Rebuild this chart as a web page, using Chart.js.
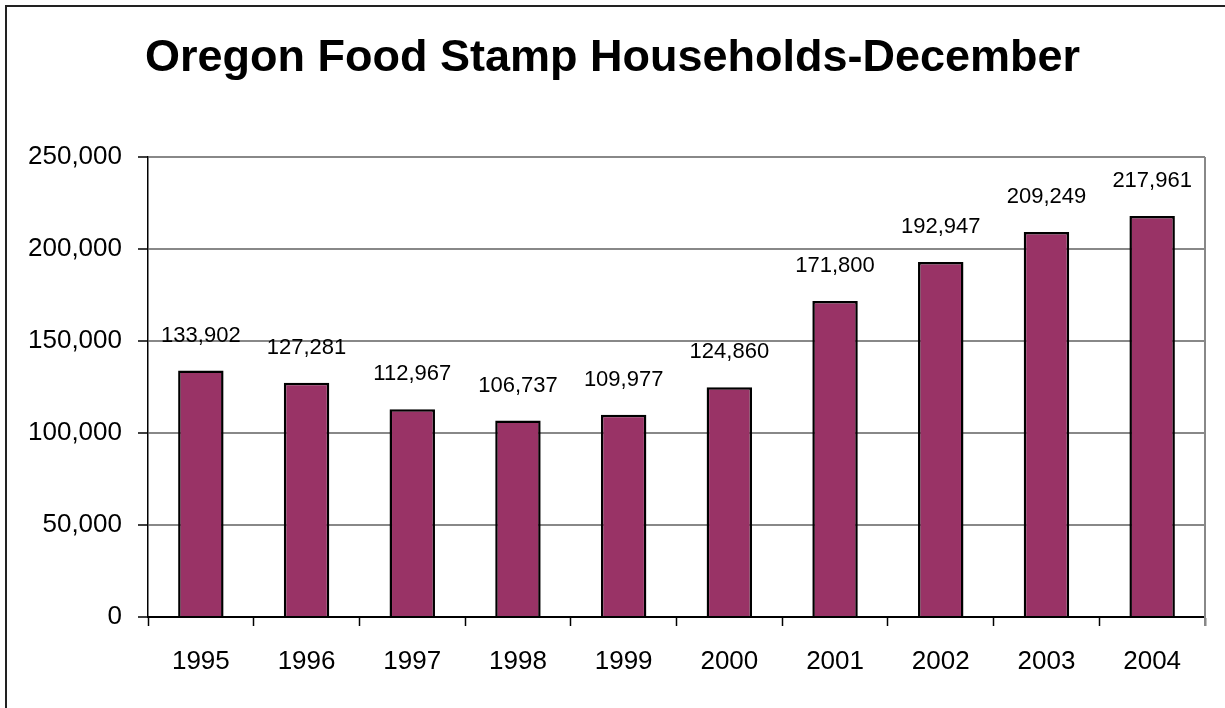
<!DOCTYPE html>
<html>
<head>
<meta charset="utf-8">
<title>Oregon Food Stamp Households-December</title>
<script src="https://cdn.jsdelivr.net/npm/chart.js@4.4.1/dist/chart.umd.min.js"></script>
<style>
  html, body { margin: 0; padding: 0; background: #fff; }
  #wrap { position: relative; width: 1225px; height: 708px; overflow: hidden; }
  #frame { position: absolute; left: 5px; top: 5px; width: 1300px; height: 800px;
           border-left: 2px solid #222; border-top: 2px solid #222; }
  #foodChart { position: absolute; left: 0; top: 0; }
</style>
</head>
<body>
<div id="wrap">
  <div id="frame"></div>
  <canvas id="foodChart" width="1225" height="708"></canvas>
</div>
<script>
// households on food stamps, December of each year
const years = ["1995", "1996", "1997", "1998", "1999", "2000", "2001", "2002", "2003", "2004"];
const households = [133902, 127281, 112967, 106737, 109977, 124860, 171800, 192947, 209249, 217961];
const yTicks = [0, 50000, 100000, 150000, 200000, 250000];

const sans = "'Liberation Sans', Arial, sans-serif";

function fmt(v) {
  return Number(v).toLocaleString("en-US");
}

// value above each bar
const barLabels = {
  id: "barLabels",
  afterDatasetsDraw(chart) {
    const ctx = chart.ctx;
    const meta = chart.getDatasetMeta(0);
    ctx.save();
    ctx.font = "22px " + sans;
    ctx.fillStyle = "#000";
    ctx.textAlign = "center";
    ctx.textBaseline = "alphabetic";
    meta.data.forEach(function (bar, i) {
      ctx.fillText(fmt(chart.data.datasets[0].data[i]), bar.x, bar.y - 29);
    });
    ctx.restore();
  }
};

// gray line closing the plot area on the right
const rightEdge = {
  id: "rightEdge",
  beforeDatasetsDraw(chart) {
    const a = chart.chartArea;
    const ctx = chart.ctx;
    ctx.save();
    ctx.strokeStyle = "#888";
    ctx.lineWidth = 2;
    ctx.beginPath();
    ctx.moveTo(a.right, a.top);
    ctx.lineTo(a.right, a.bottom + 9);
    ctx.stroke();
    ctx.restore();
  }
};

Chart.defaults.color = "#000";

const foodChart = new Chart("foodChart", {
  type: "bar",
  data: {
    labels: years,
    datasets: [{
      data: households,
      backgroundColor: "#993366",
      borderColor: "#000",
      borderWidth: 2.5,
      barPercentage: 0.43,
      categoryPercentage: 1
    }]
  },
  options: {
    responsive: false,
    animation: false,
    layout: { padding: 0 },
    plugins: {
      legend: { display: false },
      tooltip: { enabled: false },
      title: {
        display: true,
        text: "Oregon Food Stamp Households-December",
        color: "#000",
        font: { family: sans, size: 45, weight: "bold", lineHeight: 1.2 },
        padding: { top: 32, bottom: 71 }
      }
    },
    scales: {
      x: {
        grid: {
          offset: true,
          drawOnChartArea: false,
          drawTicks: true,
          tickLength: 9,
          tickColor: "#000",
          tickWidth: 1.5
        },
        border: { color: "#000", width: 2 },
        ticks: {
          font: { family: sans, size: 26 },
          padding: 20,
          maxRotation: 0
        },
        afterFit(scale) { scale.height = 91; }
      },
      y: {
        min: 0,
        max: 250000,
        afterBuildTicks(scale) {
          scale.ticks = yTicks.map(function (v) { return { value: v }; });
        },
        grid: {
          color: "#888",
          lineWidth: 2,
          tickLength: 10,
          tickColor: "#000",
          tickWidth: 1.5
        },
        border: { color: "#000", width: 1.5 },
        ticks: {
          font: { family: sans, size: 26 },
          padding: 16,
          callback: function (v) { return fmt(v); }
        },
        afterFit(scale) { scale.width = 148; }
      },
      // empty right-hand margin so the title stays centred on the whole canvas
      yRight: {
        position: "right",
        min: 0,
        max: 250000,
        grid: { display: false },
        border: { display: false },
        ticks: { display: false },
        afterFit(scale) { scale.width = 20; }
      }
    }
  },
  plugins: [barLabels, rightEdge]
});
</script>
</body>
</html>
